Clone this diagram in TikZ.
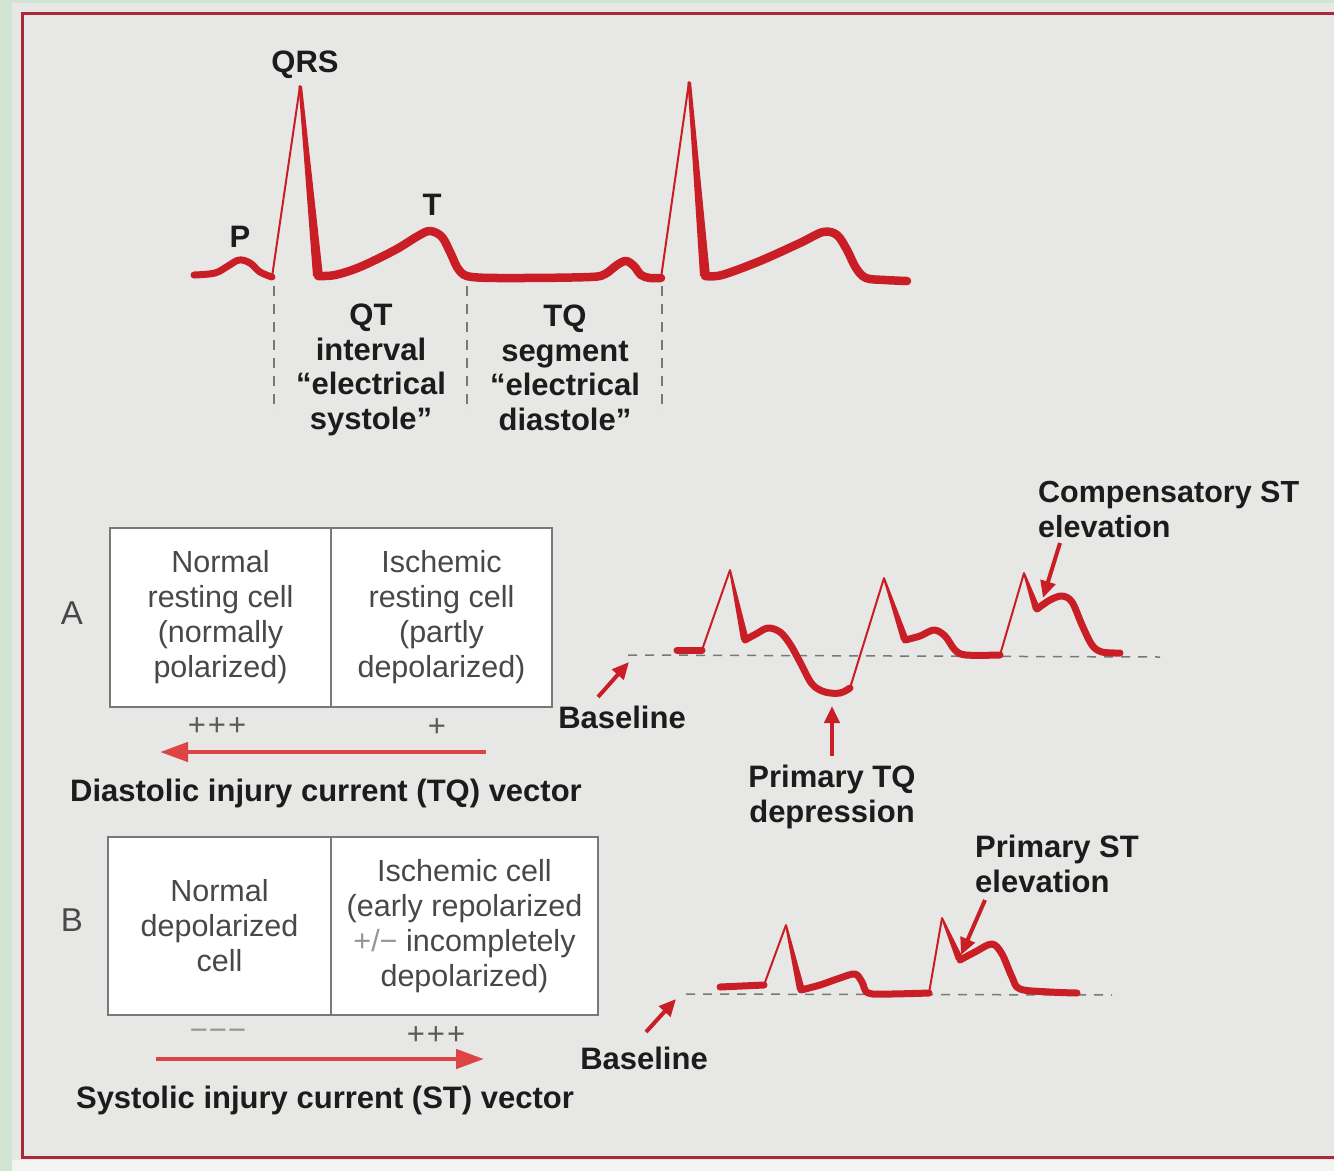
\documentclass[tikz,border=0pt]{standalone}
\usepackage{fontspec}
\setmainfont{Liberation Sans}
\usetikzlibrary{arrows.meta}
\definecolor{ecgred}{RGB}{202,30,38}
\definecolor{vecred}{RGB}{222,68,68}
\definecolor{borderred}{RGB}{170,40,55}
\definecolor{greenbg}{RGB}{210,228,210}
\definecolor{paper}{RGB}{231,231,229}
\definecolor{paperlight}{RGB}{243,243,241}
\definecolor{txtdark}{RGB}{28,28,28}
\definecolor{celltxt}{RGB}{72,72,72}
\definecolor{cellgray}{RGB}{120,120,120}
\definecolor{dashgray}{RGB}{120,120,120}
\definecolor{signgray}{RGB}{90,90,90}
\definecolor{lightsign}{RGB}{150,150,150}
\begin{document}
\begin{tikzpicture}[x=1pt,y=-1pt,
  lbl/.style={font=\fontsize{31}{34.5}\selectfont\bfseries, text=txtdark, inner sep=0pt, align=center},
  cell/.style={draw=cellgray, line width=1.5pt, fill=white, inner sep=0pt, align=center,
               font=\fontsize{30.5}{35}\selectfont, text=celltxt},
  letter/.style={font=\fontsize{33}{36}\selectfont, text=celltxt, inner sep=0pt},
  sign/.style={font=\fontsize{31}{34}\selectfont, text=signgray, inner sep=0pt},
  thickw/.style={draw=ecgred, line width=8.5pt, line join=round, line cap=round},
  thickr/.style={draw=ecgred, line width=7pt, line join=round, line cap=round},
  thinw/.style={draw=ecgred, line width=2pt, line cap=round},
  ptr/.style={draw=ecgred, line width=4pt, -{Triangle[length=17pt,width=15pt]}},
  vec/.style={draw=vecred, line width=4.5pt, -{Triangle[length=28pt,width=19pt]}},
  basedash/.style={draw=dashgray, line width=1.5pt, dash pattern=on 9pt off 8pt},
  vdash/.style={draw=dashgray, line width=1.2pt, dash pattern=on 10pt off 8pt}]
\useasboundingbox (0,0) rectangle (1334,1171);
% background
\fill[greenbg] (0,0) rectangle (1334,1171);
\fill[paper] (12,3) rectangle (1334,1160);
\fill[paperlight] (12,1160) rectangle (1334,1171);
\draw[borderred, line width=3pt] (1334,13) -- (22,13) -- (22,1157) -- (1334,1157);

% ---------- top ECG ----------
\draw[thickr] plot[smooth, tension=0.6] coordinates {(194,275) (215,273) (228,266) (239,260) (250,263) (260,272) (272,277)};
\draw[thinw] (272,277) -- (300,86);
\fill[ecgred] (298.5,86) -- (302,86) -- (323,276) -- (313,276) -- cycle;
\draw[thickw] plot[smooth, tension=0.55] coordinates {(318,276) (335,275) (360,267) (395,250) (418,236) (430,231) (442,237) (451,254) (459,270) (472,277) (520,278) (590,277) (605,274) (617,265) (626,261) (634,266) (641,275) (650,278) (661,278)};
\draw[thinw] (661,278) -- (689,82);
\fill[ecgred] (687.5,82) -- (691,82) -- (710,276) -- (700,276) -- cycle;
\draw[thickw] plot[smooth, tension=0.55] coordinates {(705,276) (722,275) (760,261) (800,243) (823,232) (837,235) (847,250) (856,268) (866,278) (885,280) (907,281)};
% dashed interval lines
\coordinate (d1t) at (274,286); \coordinate (d1b) at (274,412);
\coordinate (d2t) at (467,286); \coordinate (d2b) at (467,412);
\coordinate (d3t) at (662,286); \coordinate (d3b) at (662,412);
\draw[vdash] (d1t) -- (d1b);
\draw[vdash] (d2t) -- (d2b);
\draw[vdash] (d3t) -- (d3b);

\node[lbl] (qrs) at (305,65) {QRS};
\node[lbl] (p) at (240,237) {P};
\node[lbl] (t) at (432,205) {T};
\node[lbl, anchor=north] (qt) at (371,304) {QT\\interval\\“electrical\\systole”};
\node[lbl, anchor=north] (tq) at (565,305) {TQ\\segment\\“electrical\\diastole”};

% ---------- panel A ----------
\node[letter] (la) at (72,613) {A};
\node[cell, minimum width=221pt, minimum height=179pt] (a1) at (220.5,617.5) {Normal\\resting cell\\(normally\\polarized)};
\node[cell, minimum width=221pt, minimum height=179pt] (a2) at (441.5,617.5) {Ischemic\\resting cell\\(partly\\depolarized)};
\node[sign] (pa1) at (217,727) {+\kern2pt+\kern2pt+};
\node[sign] (pa2) at (437,728) {+};
\coordinate (va1) at (486,752); \coordinate (va2) at (160,752);
\draw[vec] (va1) -- (va2);
\node[lbl] (dia) at (326,793) {Diastolic injury current (TQ) vector};

% trace A
\draw[basedash] (628,655) -- (1160,657);
\draw[thickr] (677,650) -- (702,650);
\draw[thinw] (702,650) -- (730,570);
\fill[ecgred] (729,570) -- (731,570) -- (749,640) -- (741,640) -- cycle;
\draw[thickr] plot[smooth, tension=0.55] coordinates {(745,640) (756,634) (768,628) (780,632) (790,644) (800,662) (812,684) (825,692) (840,693) (850,688)};
\draw[thinw] (850,688) -- (884,578);
\fill[ecgred] (883,578) -- (885,578) -- (909,640) -- (901,640) -- cycle;
\draw[thickr] plot[smooth, tension=0.55] coordinates {(905,640) (920,636) (934,630) (945,636) (955,650) (966,655) (1000,655)};
\draw[thinw] (1000,655) -- (1024,573);
\fill[ecgred] (1023,573) -- (1025,573) -- (1041,610) -- (1033,610) -- cycle;
\draw[thickr] plot[smooth, tension=0.55] coordinates {(1037,609) (1050,600) (1062,596) (1072,602) (1082,625) (1092,645) (1102,652) (1120,653)};

\node[lbl, anchor=north west, align=left, font=\fontsize{30.5}{34.5}\selectfont\bfseries] (comp) at (1038,481) {Compensatory ST\\elevation};
\coordinate (compS) at (1060,543); \coordinate (compE) at (1043,598);
\draw[ptr] (compS) -- (compE);
\node[lbl, anchor=north] (ptq) at (832,765) {Primary TQ\\depression};
\coordinate (ptqS) at (832,756); \coordinate (ptqE) at (832,706);
\draw[ptr] (ptqS) -- (ptqE);
\node[lbl] (basea) at (622,717) {Baseline};
\coordinate (baS) at (598,697); \coordinate (baE) at (629,662);
\draw[ptr] (baS) -- (baE);

% ---------- panel B ----------
\node[letter] (lb) at (72,920) {B};
\node[cell, minimum width=223pt, minimum height=178pt] (b1) at (219.5,926) {Normal\\depolarized\\cell};
\node[cell, minimum width=267pt, minimum height=178pt] (b2) at (464.5,926) {Ischemic cell\\(early repolarized\\{\color{lightsign}+/−} incompletely\\depolarized)};
\node[sign, text=lightsign] (mb1) at (218,1035) {−\kern1pt−\kern1pt−};
\node[sign] (pb2) at (436,1036) {+\kern2pt+\kern2pt+};
\coordinate (vb1) at (156,1059); \coordinate (vb2) at (484,1059);
\draw[vec] (vb1) -- (vb2);
\node[lbl] (sys) at (325,1100) {Systolic injury current (ST) vector};

% trace B
\draw[basedash] (686,994) -- (1112,995);
\draw[thickr] (720,987) -- (764,985);
\draw[thinw] (764,985) -- (786,925);
\fill[ecgred] (785,925) -- (787,925) -- (805,990) -- (797,990) -- cycle;
\draw[thickr] plot[smooth, tension=0.55] coordinates {(801,990) (820,985) (840,978) (855,974) (862,982) (868,993) (890,994) (929,993)};
\draw[thinw] (929,993) -- (942,918);
\fill[ecgred] (941,918) -- (943,918) -- (964,960) -- (956,960) -- cycle;
\draw[thickr] plot[smooth, tension=0.55] coordinates {(960,960) (975,952) (992,944) (1002,954) (1012,977) (1020,989) (1050,992) (1077,993)};

\node[lbl, anchor=north west, align=left] (pst) at (975,835) {Primary ST\\elevation};
\coordinate (pstS) at (985,900); \coordinate (pstE) at (961,955);
\draw[ptr] (pstS) -- (pstE);
\node[lbl] (baseb) at (644,1058) {Baseline};
\coordinate (bbS) at (646,1032); \coordinate (bbE) at (676,999);
\draw[ptr] (bbS) -- (bbE);
\end{tikzpicture}
\end{document}
